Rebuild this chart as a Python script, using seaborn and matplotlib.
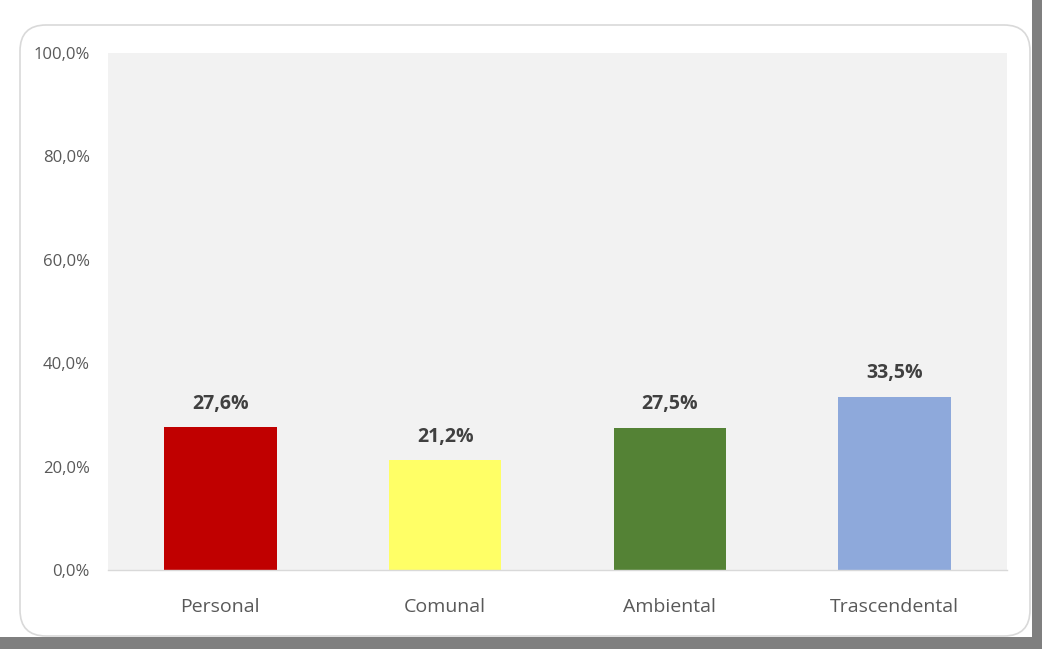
import matplotlib
matplotlib.use("Agg")
import matplotlib.pyplot as plt
import seaborn as sns
import pandas as pd
from matplotlib.patches import FancyBboxPatch, Rectangle
from matplotlib.ticker import FuncFormatter

categories = ["Personal", "Comunal", "Ambiental", "Trascendental"]
values = [27.6, 21.2, 27.5, 33.5]
colors = ["#C00000", "#FFFF66", "#548235", "#8EA9DB"]
yticks = [0, 20, 40, 60, 80, 100]

sns.set_theme(style="white")
plt.rcParams["font.family"] = ["Open Sans", "DejaVu Sans"]

fig = plt.figure(figsize=(10.42, 6.49), dpi=100)
W, H = 1042, 649

# shadow and rounded frame
fig.patches.append(Rectangle((1032 / W, 0), 10 / W, 1, transform=fig.transFigure,
                             facecolor="#7f7f7f", edgecolor="none", zorder=0))
fig.patches.append(Rectangle((0, 0), 1, 12 / H, transform=fig.transFigure,
                             facecolor="#7f7f7f", edgecolor="none", zorder=0))
fig.patches.append(FancyBboxPatch((20 / W, 13 / H), 1010 / W, 611 / H,
                                  boxstyle="round,pad=0,rounding_size=0.025",
                                  transform=fig.transFigure, facecolor="white",
                                  edgecolor="#d9d9d9", linewidth=1.2, zorder=1,
                                  mutation_aspect=W / H))

ax = fig.add_axes([108 / W, (H - 570) / H, (1007 - 108) / W, (570 - 53) / H], zorder=2)
ax.set_facecolor("#F2F2F2")

df = pd.DataFrame({"cat": categories, "val": values})
sns.barplot(data=df, x="cat", y="val", hue="cat", palette=colors, width=0.5,
            legend=False, ax=ax, saturation=1, linewidth=0)

for i, v in enumerate(values):
    ax.text(i, v + 2.6, f"{v:.1f}%".replace(".", ","), ha="center", va="bottom",
            fontsize=14, fontweight="bold", color="#404040")

ax.set_ylim(0, 100)
ax.set_xlim(-0.5, 3.5)
ax.set_yticks(yticks)
ax.yaxis.set_major_formatter(FuncFormatter(lambda y, p: f"{y:.1f}%".replace(".", ",")))
ax.tick_params(axis="y", length=0, pad=13, labelsize=12, labelcolor="#595959")
ax.tick_params(axis="x", length=0, pad=20, labelsize=14, labelcolor="#595959")
ax.set_xlabel("")
ax.set_ylabel("")
for s in ["top", "right", "left"]:
    ax.spines[s].set_visible(False)
ax.spines["bottom"].set_color("#d9d9d9")
ax.spines["bottom"].set_linewidth(1)

fig.savefig("out.png", dpi=100)
